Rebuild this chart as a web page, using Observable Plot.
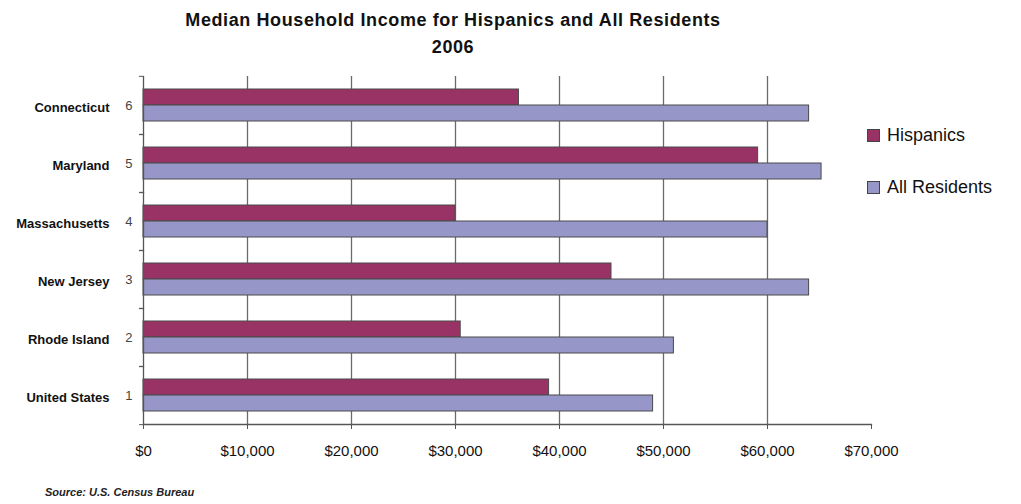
<!DOCTYPE html>
<html><head><meta charset="utf-8">
<script src="https://cdn.jsdelivr.net/npm/d3@7"></script>
<script src="https://cdn.jsdelivr.net/npm/@observablehq/plot@0.6"></script>
<style>
body{margin:0;background:#fff;font-family:"Liberation Sans",Arial,sans-serif;}
#wrap{position:relative;width:1021px;height:504px;overflow:hidden;background:#fff;}
#chart{position:absolute;left:0;top:0;}
.title{position:absolute;left:0;width:906px;text-align:center;font-weight:bold;font-size:18px;letter-spacing:0.6px;line-height:20px;color:#111;}
.legend{position:absolute;left:867px;font-size:18px;line-height:22px;color:#111;}
.legend .sw{position:absolute;left:0;top:5px;width:11px;height:11px;border:1px solid #444;}
.legend span.t{position:absolute;left:20px;top:0;white-space:nowrap;}
.source{position:absolute;left:45px;top:486px;font-size:11px;font-weight:bold;font-style:italic;color:#222;}
</style></head>
<body><div id="wrap">
<div class="title" id="t1" style="top:10px"></div>
<div class="title" id="t2" style="top:37px"></div>
<div id="chart"></div>
<div id="legend"></div>
<div class="source" id="src"></div>
</div>
<script>
const titleLine1 = "Median Household Income for Hispanics and All Residents";
const titleLine2 = "2006";
const sourceText = "Source: U.S. Census Bureau";
const states = ["Connecticut","Maryland","Massachusetts","New Jersey","Rhode Island","United States"];
const stateNumbers = ["6","5","4","3","2","1"];
const seriesNames = ["Hispanics","All Residents"];
const hispanics = [36100, 59100, 30000, 45000, 30500, 39000];
const allResidents = [64000, 65200, 60000, 64000, 51000, 49000];
const seriesColors = ["#993366","#9696c8"];
const xTicks = [0,10000,20000,30000,40000,50000,60000,70000];
const gridTicks = [10000,20000,30000,40000,50000,60000];

document.getElementById("t1").textContent = titleLine1;
document.getElementById("t2").textContent = titleLine2;
document.getElementById("src").textContent = sourceText;

const table = [];
states.forEach((s,i)=>{
  table.push({state:s, series:seriesNames[0], value:hispanics[i]});
  table.push({state:s, series:seriesNames[1], value:allResidents[i]});
});
const stateRows = states.map((s,i)=>({state:s, num:stateNumbers[i]}));
const numOf = Object.fromEntries(states.map((s,i)=>[s,stateNumbers[i]]));
const bw = (504-75-79)/states.length;

const chart = Plot.plot({
  width:1021, height:504,
  marginTop:75, marginBottom:79, marginLeft:143, marginRight:150,
  style:{fontFamily:"'Liberation Sans', Arial, sans-serif", background:"transparent"},
  x:{domain:[0,70000]},
  y:{domain:seriesNames, paddingInner:0, paddingOuter:0.768, axis:null},
  fy:{domain:states, padding:0},
  color:{domain:seriesNames, range:seriesColors},
  marks:[
    Plot.ruleX(gridTicks, {stroke:"#6a6a6a", strokeWidth:1.3}),
    Plot.barX(table, {x:"value", y:"series", fy:"state", fill:"series", stroke:"#4a4a4a", strokeWidth:1}),
    Plot.frame({anchor:"left", stroke:"#555", strokeWidth:1.3}),
    Plot.frame({anchor:"bottom", facetAnchor:"bottom", stroke:"#555", strokeWidth:1.3}),
    Plot.axisX({ticks:xTicks, tickSize:5, tickPadding:16, stroke:"#555", fontSize:15, fill:"#111",
      tickFormat:d=>"$"+d3.format(",")(d), label:null}),
    Plot.axisFy({anchor:"left", tickSize:4, tickFormat:()=>"", dy:-bw/2, stroke:"#555", label:null}),
    Plot.axisFy({anchor:"left", tickSize:4, tickFormat:()=>"", dy:bw/2, stroke:"#555", label:null}),
    Plot.axisFy({anchor:"left", tickSize:0, tickPadding:11, tickFormat:s=>numOf[s], fontSize:13, fill:"#444", label:null}),
    Plot.text(stateRows, {fy:"state", text:"state", frameAnchor:"left", dx:-34, dy:2, textAnchor:"end",
      fontWeight:"bold", fontSize:13, fill:"#111"})
  ]
});
document.getElementById("chart").appendChild(chart);

const leg = document.getElementById("legend");
const legendTops = [124, 176];
seriesNames.forEach((n,i)=>{
  const d = document.createElement("div");
  d.className = "legend";
  d.style.top = legendTops[i]+"px";
  const sw = document.createElement("div");
  sw.className = "sw"; sw.style.background = seriesColors[i];
  const t = document.createElement("span");
  t.className = "t"; t.textContent = n;
  d.appendChild(sw); d.appendChild(t);
  leg.appendChild(d);
});
</script>
</body></html>
